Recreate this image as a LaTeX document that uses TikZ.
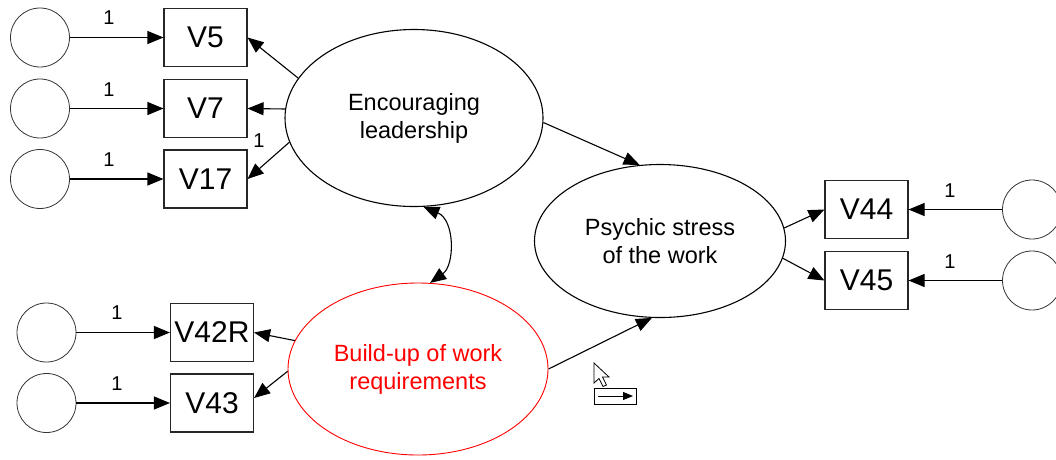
\documentclass[tikz,border=0pt]{standalone}
\usepackage{fontspec}
\setmainfont{Liberation Sans}
\usetikzlibrary{shapes.geometric,arrows.meta}
\begin{document}
\begin{tikzpicture}[x=1pt,y=-1pt,
  obs/.style={draw=black!85,line width=1.1pt,minimum width=83pt,minimum height=58pt,inner sep=0pt,font=\fontsize{30}{36}\selectfont},
  err/.style={draw=black!80,line width=0.8pt,circle,minimum size=59pt,inner sep=0pt},
  lat/.style={draw=black,line width=1.1pt,ellipse,inner sep=0pt,align=center,font=\fontsize{23.5}{28}\selectfont},
  arr/.style={line width=1.1pt,-{Triangle[length=16pt,width=13pt]}},
  one/.style={font=\fontsize{20}{22}\selectfont,inner sep=0pt}]
\useasboundingbox (0,0) rectangle (1056,459);
\clip (0,0) rectangle (1056,459);
% latent variables
\node[lat,minimum width=258pt,minimum height=177pt] (enc) at (414,118) {Encouraging\\leadership};
\node[lat,minimum width=251pt,minimum height=153pt] (ps) at (660,241) {Psychic stress\\of the work};
\node[lat,draw=red,line width=0.9pt,text=red,minimum width=260pt,minimum height=172pt] (bu) at (418,369) {Build-up of work\\requirements};
% observed variables
\node[obs] (v5) at (205.5,37.5) {V5};
\node[obs] (v7) at (205.5,108.5) {V7};
\node[obs] (v17) at (205.5,179) {V17};
\node[obs] (v42) at (212,332.5) {V42R};
\node[obs] (v43) at (212,403) {V43};
\node[obs] (v44) at (866.5,209.5) {V44};
\node[obs] (v45) at (866.5,280.5) {V45};
% error terms
\node[err] (e5) at (40,37.5) {};
\node[err] (e7) at (40,108.5) {};
\node[err] (e17) at (40,179) {};
\node[err] (e42) at (46.5,332.5) {};
\node[err] (e43) at (46.5,403) {};
\node[err] (e44) at (1032,209.5) {};
\node[err] (e45) at (1032,280.5) {};
% error arrows
\draw[arr] (e5) -- (v5);
\draw[arr] (e7) -- (v7);
\draw[arr] (e17) -- (v17);
\draw[arr] (e42) -- (v42);
\draw[arr] (e43) -- (v43);
\draw[arr] (e44) -- (v44);
\draw[arr] (e45) -- (v45);
% labels
\node[one] (l5) at (109,17.5) {1};
\node[one] (l7) at (109,89.5) {1};
\node[one] (l17) at (109,160) {1};
\node[one] (l17b) at (259,141) {1};
\node[one] (l42) at (117,312.5) {1};
\node[one] (l43) at (117,383.5) {1};
\node[one] (l44) at (950,191) {1};
\node[one] (l45) at (950,262) {1};
% loadings
\draw[arr] (enc.161) -- (v5.east);
\draw[arr] (enc.176) -- (v7.east);
\draw[arr] (enc.191) -- (v17.east);
\draw[arr] (bu.167) -- (v42.east);
\draw[arr] (bu.181) -- ([yshift=5pt]v43.east);
\draw[arr] (ps.6) -- (v44.west);
\draw[arr] (ps.352) -- (v45.west);
% structural paths
\draw[arr] (enc.358) -- (ps.105);
\draw[arr] (bu.0) -- (ps.264);
% covariance
\draw[line width=1.1pt,{Triangle[length=16pt,width=13pt]}-{Triangle[length=16pt,width=13pt]}] (enc.276) .. controls (455,220) and (455,265) .. (bu.82);
% cursor
\draw[line width=0.8pt,fill=white] (594,363) -- ++(0,20) -- ++(5,-4.5) -- ++(4,8) -- ++(3.5,-1.5) -- ++(-4,-8) -- ++(6.5,0) -- cycle;
\draw[line width=0.9pt] (594,388) rectangle (636,404);
\draw[line width=1pt,-{Triangle[length=10pt,width=8pt]}] (598,396) -- (633,396);
\end{tikzpicture}
\end{document}
